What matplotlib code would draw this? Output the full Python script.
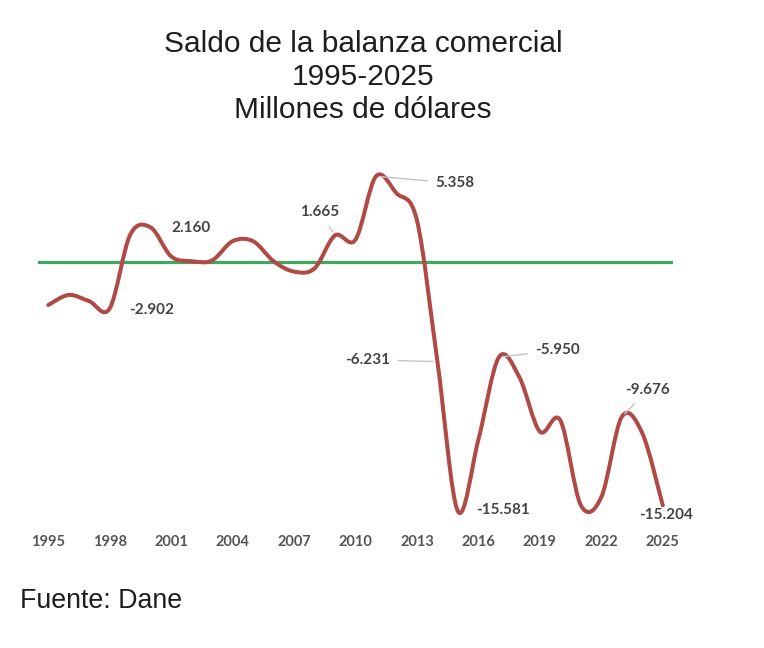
import numpy as np
import matplotlib
matplotlib.use("Agg")
import matplotlib.pyplot as plt
from matplotlib.path import Path
from matplotlib.patches import PathPatch

# ---------------- data (millones de dólares) ----------------
years = list(range(1995, 2026))
saldo = [-2690, -2060, -2450, -2902, 1700, 2160, 350, 50, 100, 1300,
         1300, 50, -600, -400, 1665, 1400, 5358, 4300, 2600, -6231,
         -15581, -11100, -5950, -7200, -10600, -9900, -15200, -14700, -9676, -10700,
         -15204]
tick_years = [1995, 1998, 2001, 2004, 2007, 2010, 2013, 2016, 2019, 2022, 2025]
tick_labels = [str(y) for y in tick_years]

# labelled points: year, text, offset (px), leader line
labels_year = [1998, 2000, 2009, 2011, 2014, 2015, 2017, 2023, 2025]
labels_text = ["-2.902", "2.160", "1.665", "5.358", "-6.231", "-15.581", "-5.950", "-9.676", "-15.204"]
labels_off = [(42, -2), (40, -1), (-15, 23), (79, -7), (-70, 2), (45, 1), (59, 7), (26, 27), (3, -10)]
labels_leader = [False, False, True, True, True, False, True, True, False]

title_lines = ["Saldo de la balanza comercial", "1995-2025", "Millones de dólares"]
source = "Fuente: Dane"

# ---------------- figure ----------------
W, H = 764, 648
fig = plt.figure(figsize=(W / 100, H / 100), dpi=100)
fig.patch.set_facecolor("white")

ax_left, ax_right, ax_top, ax_bottom = 38, 673, 166, 518
ax = fig.add_axes([ax_left / W, 1 - ax_bottom / H, (ax_right - ax_left) / W, (ax_bottom - ax_top) / H])
ax.set_xlim(1994.5, 2025.5)
ax.set_ylim(-16000, 6000)
for s in ax.spines.values():
    s.set_visible(False)
ax.set_yticks([])
ax.set_xticks(tick_years)
ax.set_xticklabels(tick_labels, fontfamily="Lato", fontweight="bold", fontsize=10.5, color="#555555")
ax.tick_params(axis="x", length=0, pad=12)

# zero line (green)
ax.axhline(0, color="#3fa75e", lw=2.3, zorder=2)

# smooth line (Catmull-Rom / Bezier like Excel smoothed line)
x = np.array(years, dtype=float)
y = np.array(saldo, dtype=float)
P = np.column_stack([x, y])
Pext = np.vstack([P[0], P, P[-1]])
verts = [P[0]]
codes = [Path.MOVETO]
for i in range(len(P) - 1):
    p0, p1, p2, p3 = Pext[i], Pext[i + 1], Pext[i + 2], Pext[i + 3]
    c1 = p1 + (p2 - p0) / 6.0
    c2 = p2 - (p3 - p1) / 6.0
    verts += [c1, c2, p2]
    codes += [Path.CURVE4] * 3
path = Path(verts, codes)
ax.add_patch(PathPatch(path, facecolor="none", edgecolor="#b04a46", lw=2.9,
                       capstyle="round", joinstyle="round", zorder=3))

# data labels
for yr, txt, off, lead in zip(labels_year, labels_text, labels_off, labels_leader):
    val = saldo[years.index(yr)]
    kw = {}
    if lead:
        kw["arrowprops"] = dict(arrowstyle="-", color="#c4c4c4", lw=1.0, shrinkA=4, shrinkB=3)
    ax.annotate(txt, xy=(yr, val), xytext=off, textcoords="offset pixels",
                ha="center", va="center", fontfamily="Lato", fontweight="bold",
                fontsize=11, color="#444444", zorder=4, **kw)

# title
for line, yb in zip(title_lines, [52, 85, 118]):
    fig.text(363 / W, 1 - yb / H, line, ha="center", va="baseline",
             fontfamily="Liberation Sans", fontsize=21.5, color="#1e1e1e")

# source
fig.text(20 / W, 1 - 608 / H, source, ha="left", va="baseline",
         fontfamily="Liberation Sans", fontsize=19.3, color="#1e1e1e")

fig.savefig("out.png", dpi=100, facecolor="white")
